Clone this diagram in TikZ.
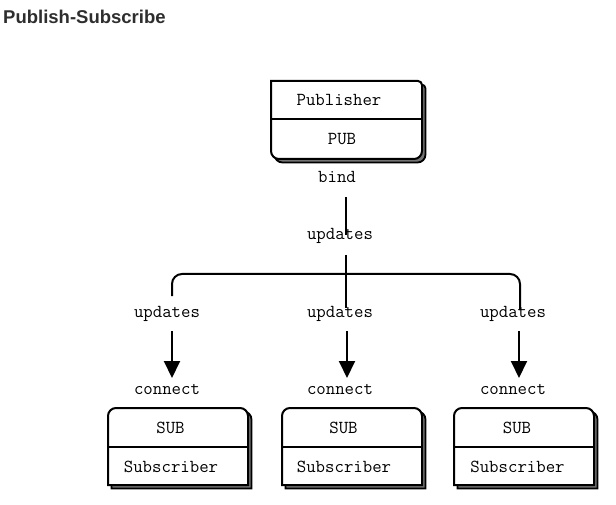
\documentclass[tikz,border=0pt]{standalone}
\usepackage{fontspec}
\newfontfamily\titlefont{Liberation Sans}
\usetikzlibrary{arrows.meta}
% publisher shape: top-left square, other corners rounded
\newcommand\pubshape[4]{(#1,#2) -- ({#3-4},#2) arc[start angle=-90,end angle=0,radius=4] -- (#3,{#4-8}) arc[start angle=0,end angle=90,radius=8] -- ({#1+8},#4) arc[start angle=90,end angle=180,radius=8] -- cycle}
% subscriber shape: top corners rounded, bottom corners square
\newcommand\subshape[4]{(#1,#4) -- (#1,{#2+8}) arc[start angle=180,end angle=270,radius=8] -- ({#3-8},#2) arc[start angle=270,end angle=360,radius=8] -- (#3,#4) -- cycle}
\tikzset{
  mono/.style={font=\ttfamily\fontsize{18.3}{20}\selectfont, inner sep=0pt, anchor=base},
  boxline/.style={draw=black, line width=2pt, fill=white},
  shadowfill/.style={fill=black!55, draw=black, line width=1.8pt},
  conn/.style={draw=black, line width=2pt},
  arr/.style={conn, -{Triangle[length=17pt,width=16pt]}},
}
\begin{document}
\begin{tikzpicture}[x=1pt,y=1pt,yscale=-1]
\useasboundingbox[fill=white] (0,0) rectangle (616,505);
% title
\node[anchor=base west, inner sep=0pt, font=\titlefont\bfseries\fontsize{18.5}{20}\selectfont, text=black!82] (title) at (3,24) {Publish-Subscribe};
% publisher box
\path[shadowfill] \pubshape{274.5}{84.5}{425.5}{162.5};
\path[boxline] \pubshape{271}{81}{422}{159};
\coordinate (pubdl) at (271,119);
\coordinate (pubdr) at (422,119);
\draw[conn] (pubdl) -- (pubdr);
\node[mono] (pubname) at (339,106) {Publisher};
\node[mono] (pubsock) at (342,145) {PUB};
\node[mono] (bind) at (337,183) {bind};
\node[mono] (up0) at (340,240) {updates};
% trunk
\coordinate (t1a) at (346,197);
\coordinate (t1b) at (346,235);
\coordinate (t2a) at (346,255);
\coordinate (t2b) at (346,308);
\draw[conn] (t1a) -- (t1b);
\draw[conn] (t2a) -- (t2b);
% bar
\coordinate (bl) at (172,296);
\coordinate (blc) at (172,274);
\coordinate (brc) at (520,274);
\coordinate (br) at (520,310);
\draw[conn, rounded corners=10pt] (bl) -- (blc) -- (brc) -- (br);
% labels and arrows
\foreach \n/\lx/\ax in {L/167/172, M/340/347, R/513/519}{
  \node[mono] (up\n) at (\lx,317) {updates};
  \coordinate (as\n) at (\ax,331);
  \coordinate (ae\n) at (\ax,378);
  \draw[arr] (as\n) -- (ae\n);
  \node[mono] (con\n) at (\lx,394) {connect};
}
% subscriber boxes
\foreach \n/\xa/\xb/\tx in {L/108/248/170.5, M/282/422/343.5, R/454/594/517}{
  \path[shadowfill] \subshape{\xa+3.5}{411.5}{\xb+3.5}{488.5};
  \path[boxline] \subshape{\xa}{408}{\xb}{485};
  \coordinate (sdl\n) at (\xa,447);
  \coordinate (sdr\n) at (\xb,447);
  \draw[conn] (sdl\n) -- (sdr\n);
  \node[mono] (sub\n) at (\tx,433) {SUB};
  \node[mono] (subn\n) at (\tx+0.5,472) {Subscriber};
}
\end{tikzpicture}
\end{document}
